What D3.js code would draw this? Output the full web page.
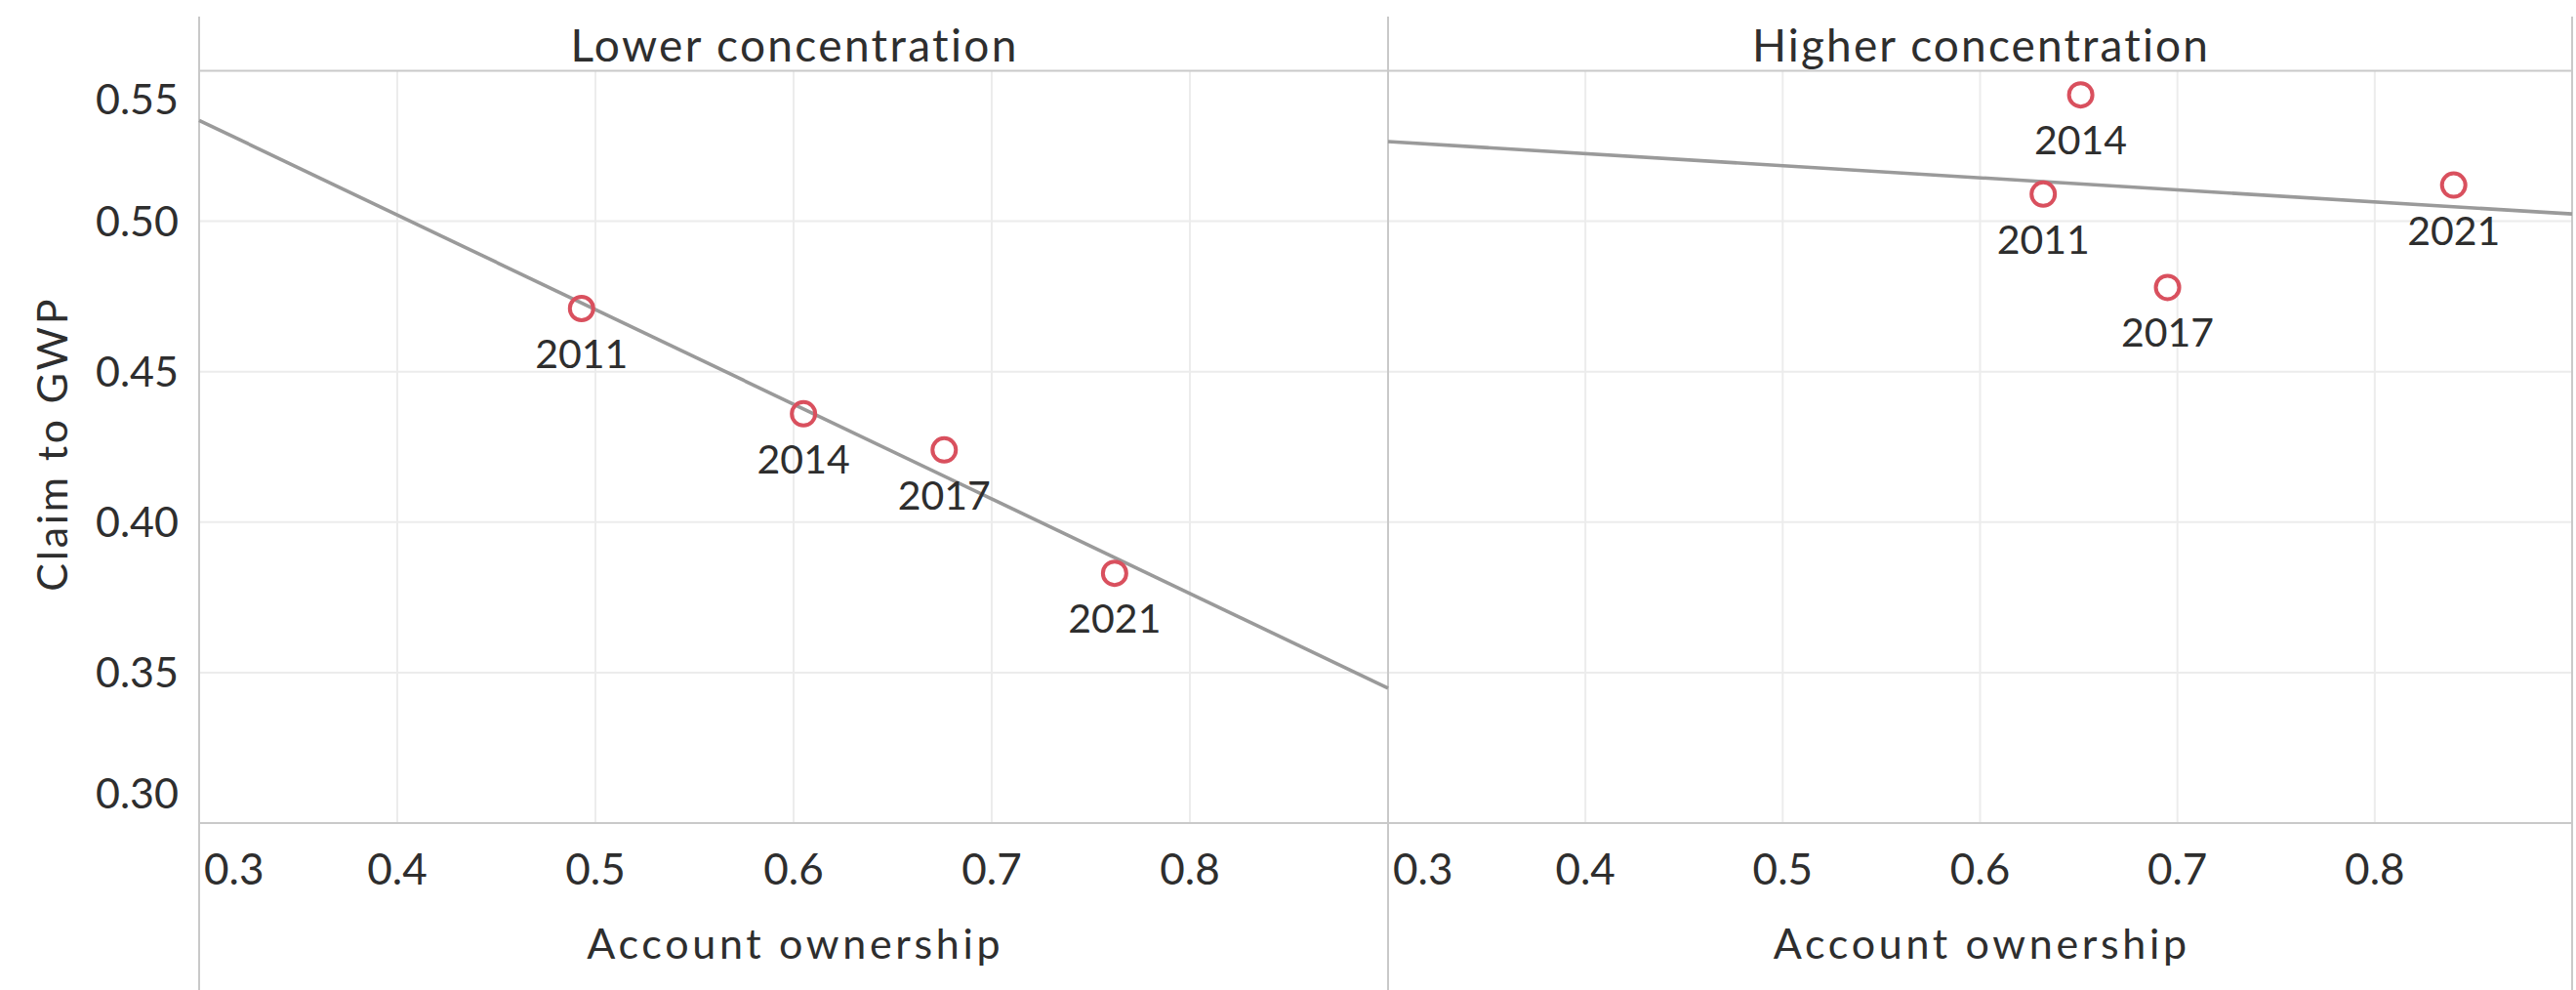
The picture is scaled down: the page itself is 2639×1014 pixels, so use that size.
<!DOCTYPE html>
<html>
<head>
<meta charset="utf-8">
<script src="https://cdn.jsdelivr.net/npm/d3@7"></script>
<style>
  html, body { margin: 0; padding: 0; background: #ffffff; }
  svg { display: block; }
  text { font-family: Lato, "Open Sans", sans-serif; fill: #2e2e2e; }
</style>
</head>
<body>
<svg id="chart" width="2639" height="1014"></svg>
<script>
// ---- data ----
const panelNames = ["Lower concentration", "Higher concentration"];
const years = ["2011", "2014", "2017", "2021"];
const lowerOwnership = [0.493, 0.605, 0.676, 0.762];
const lowerClaim = [0.471, 0.436, 0.424, 0.383];
const higherOwnership = [0.632, 0.651, 0.695, 0.840];
const higherClaim = [0.509, 0.542, 0.478, 0.512];
const xTicks = [0.3, 0.4, 0.5, 0.6, 0.7, 0.8];
const yTicks = [0.30, 0.35, 0.40, 0.45, 0.50, 0.55];
const xTitle = "Account ownership";
const yTitle = "Claim to GWP";

// ---- layout ----
const W = 2639, H = 1014;
const plotTop = 72.5, plotBottom = 843, headTop = 17;
const panelX = [[204, 1422], [1422, 2635]];
const gridColor = "#ececec", borderColor = "#c9c9c9";
const markColor = "#d9505e", trendColor = "#9a9a9a";

const svg = d3.select("#chart");
const y = d3.scaleLinear().domain([0.30, 0.55]).range([plotBottom, plotTop]);

const series = [
  { name: panelNames[0], xs: lowerOwnership, ys: lowerClaim },
  { name: panelNames[1], xs: higherOwnership, ys: higherClaim }
];

function linReg(xs, ys) {
  const mx = d3.mean(xs), my = d3.mean(ys);
  let sxy = 0, sxx = 0;
  xs.forEach((v, i) => { sxy += (v - mx) * (ys[i] - my); sxx += (v - mx) * (v - mx); });
  const b = sxy / sxx;
  return v => my + b * (v - mx);
}

// widen a centred text to a target width with letter spacing (the original face is wider)
function fitWidth(sel, target) {
  sel.each(function () {
    const node = d3.select(this);
    const w = this.getComputedTextLength();
    const n = node.text().length;
    const ls = Math.max(0, (target - w) / n);
    node.style("letter-spacing", ls + "px");
    node.attr("dx", ls / 2);
  });
}

const gGrid = svg.append("g");
const gBorder = svg.append("g");
const gMarks = svg.append("g");
const gText = svg.append("g");

series.forEach((s, pi) => {
  const [x0, x1] = panelX[pi];
  const x = d3.scaleLinear().domain([0.3, 0.9]).range([x0, x1]);

  // vertical gridlines
  gGrid.selectAll(null).data(xTicks.filter(t => t > 0.3)).enter().append("line")
    .attr("x1", d => x(d)).attr("x2", d => x(d))
    .attr("y1", plotTop).attr("y2", plotBottom)
    .attr("stroke", gridColor).attr("stroke-width", 2);
  // horizontal gridlines
  gGrid.selectAll(null).data(yTicks.filter(t => t > 0.30 && t < 0.55)).enter().append("line")
    .attr("x1", x0).attr("x2", x1)
    .attr("y1", d => y(d)).attr("y2", d => y(d))
    .attr("stroke", gridColor).attr("stroke-width", 2);

  // header title
  const ht = gText.append("text")
    .attr("x", (x0 + x1) / 2).attr("y", 63)
    .attr("text-anchor", "middle")
    .style("font-size", "46px")
    .text(s.name);
  fitWidth(ht, pi === 0 ? 460 : 470);

  // x tick labels
  const xl = gText.selectAll(null).data(xTicks).enter().append("text")
    .attr("y", 906)
    .attr("text-anchor", "middle")
    .style("font-size", "44px")
    .text(d => d3.format(".1f")(d));
  xl.each(function (d) {
    const w = this.getComputedTextLength();
    let cx = x(d);
    cx = Math.max(cx, x0 + 5 + w / 2);
    cx = Math.min(cx, x1 - 5 - w / 2);
    d3.select(this).attr("x", cx);
  });

  // x axis title
  const at = gText.append("text")
    .attr("x", (x0 + x1) / 2).attr("y", 982)
    .attr("text-anchor", "middle")
    .style("font-size", "43px")
    .text(xTitle);
  fitWidth(at, 427);

  // trend line
  const f = linReg(s.xs, s.ys);
  gMarks.append("line")
    .attr("x1", x(0.3)).attr("y1", y(f(0.3)))
    .attr("x2", x(0.9)).attr("y2", y(f(0.9)))
    .attr("stroke", trendColor).attr("stroke-width", 3.6);

  // points
  const pts = s.xs.map((v, i) => ({ x: v, y: s.ys[i], year: years[i] }));
  gMarks.selectAll(null).data(pts).enter().append("circle")
    .attr("cx", d => x(d.x)).attr("cy", d => y(d.y))
    .attr("r", 12)
    .attr("fill", "none")
    .attr("stroke", markColor).attr("stroke-width", 4);
  gText.selectAll(null).data(pts).enter().append("text")
    .attr("x", d => x(d.x)).attr("y", d => y(d.y) + 61)
    .attr("text-anchor", "middle")
    .style("font-size", "41px")
    .text(d => d.year);
});

// borders
const bx = [panelX[0][0], panelX[1][0], panelX[1][1]];
gBorder.selectAll(null).data(bx).enter().append("line")
  .attr("x1", d => d).attr("x2", d => d)
  .attr("y1", headTop).attr("y2", H)
  .attr("stroke", borderColor).attr("stroke-width", 2);
gBorder.selectAll(null).data([plotTop, plotBottom]).enter().append("line")
  .attr("x1", panelX[0][0]).attr("x2", panelX[1][1])
  .attr("y1", d => d).attr("y2", d => d)
  .attr("stroke", borderColor).attr("stroke-width", 2);

// y tick labels
gText.selectAll(null).data(yTicks).enter().append("text")
  .attr("x", 183)
  .attr("y", d => Math.min(Math.max(y(d), plotTop + 29), plotBottom - 30))
  .attr("dy", "0.35em")
  .attr("text-anchor", "end")
  .style("font-size", "43px")
  .text(d => d3.format(".2f")(d));

// y axis title
const yt = gText.append("text")
  .attr("transform", `translate(54,456) rotate(-90)`)
  .attr("text-anchor", "middle")
  .attr("dy", "0.35em")
  .style("font-size", "43px")
  .text(yTitle);
fitWidth(yt, 302);
</script>
</body>
</html>
